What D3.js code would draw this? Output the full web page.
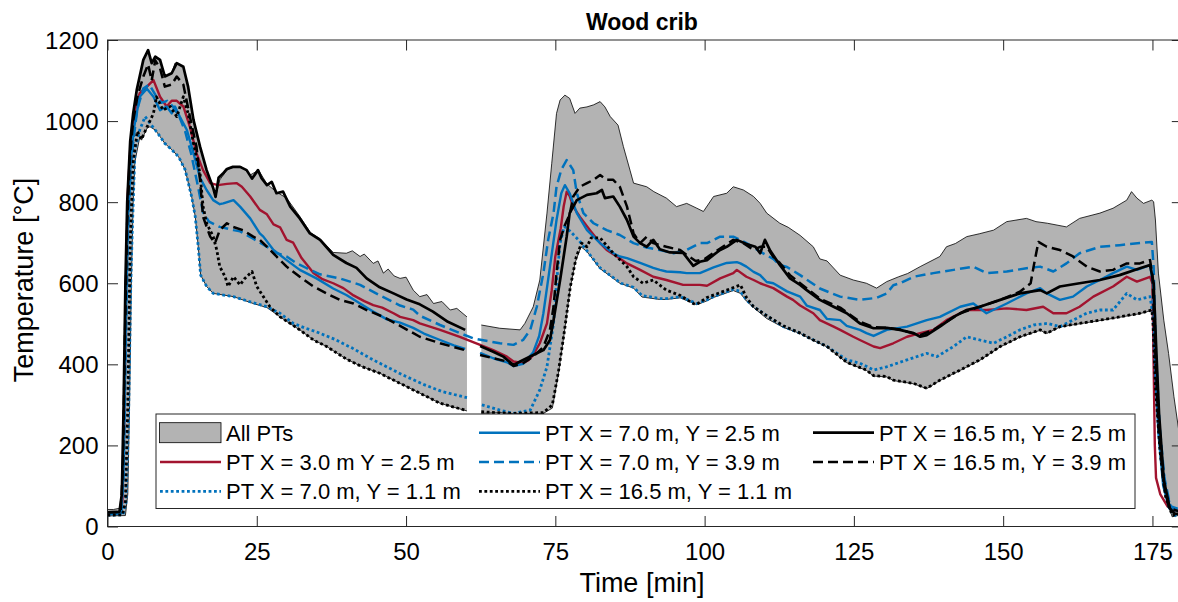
<!DOCTYPE html>
<html><head><meta charset="utf-8">
<script src="https://cdn.jsdelivr.net/npm/d3@7"></script>
<style>
body{margin:0;background:#fff}
text{font-family:Arial,"Liberation Sans",Helvetica,sans-serif;fill:#000}
</style>
</head><body>
<svg id="chart" width="1178" height="602"></svg>
<script>
// ---------------- data (time in min, temperature in °C) ----------------
const xTickValues = [0, 25, 50, 75, 100, 125, 150, 175];
const yTickValues = [0, 200, 400, 600, 800, 1000, 1200];

const envUpper = [[0,42],[1,42],[2,45],[2.3,60],[2.6,200],[3.0,500],[3.3,750],[3.7,900],[4.3,1020],[4.9,1077],[6,1151],[6.8,1177],[7.4,1143],[8,1160],[8.8,1151],[9.6,1110],[10.75,1118],[11.3,1143],[12.7,1134],[13.5,1085],[14.4,1003],[15.5,937],[16.6,879],[17.7,838],[18.1,813],[18.8,855],[20,879],[21,887],[22.5,887],[23.9,867],[25.3,879],[26.7,845],[28.3,825],[30,810],[32.2,765],[34,725],[35.6,710],[37.8,676],[40,674],[41,680],[42.3,666],[43,672],[44.5,649],[45.3,655],[46.2,625],[47,635],[48,618],[49,612],[50,615],[51.2,583],[52.3,567],[53.5,572],[54.6,550],[56,555],[57.4,534],[58.5,538],[60.2,517],null,[62.6,497],[65.7,489],[69.1,485],[69.9,501],[71.3,542],[72.4,608],[73.6,773],[74.4,896],[75.2,1019],[75.8,1052],[76.6,1064],[77.4,1056],[78.3,1019],[79.1,1032],[80.3,1035],[81.4,1040],[82.5,1048],[83.3,1035],[84.2,1011],[85.5,990],[86.4,937],[87.5,879],[88.1,847],[90.3,838],[91.5,826],[93.6,810],[95.3,789],[97,797],[98.7,785],[99.8,777],[101.5,814],[103.7,822],[104.8,838],[106.5,830],[108.2,814],[109.3,797],[110.4,773],[112.6,748],[114,738],[116,718],[118.2,690],[119.3,660],[120.5,655],[122.7,620],[124.9,608],[127.1,600],[128.8,588],[130.5,604],[132.5,616],[134,624],[136.1,641],[139.4,666],[140.5,690],[142,698],[143.9,715],[146,722],[148.4,731],[150.6,752],[153.9,760],[155.5,752],[157.4,748],[160.6,739],[162.8,760],[166.2,773],[168.4,785],[170.7,805],[171.5,826],[172.4,810],[173.5,797],[174.9,805],[175.2,801],[175.5,756],[176,625],[176.9,509],[177.7,427],[178.6,320],[179.4,238],[180,200]];

const envLower = [[0,26],[3.0,27],[3.4,80],[3.7,300],[4.0,600],[4.3,800],[4.6,900],[5.4,960],[5.7,953],[6.6,982],[7.1,986],[8,978],[8.8,962],[9.6,945],[10.8,929],[11.9,912],[13,880],[14.1,813],[14.7,764],[15.2,690],[15.6,620],[16.6,592],[17.7,575],[21.1,567],[24.4,550],[26.7,540],[28.9,517],[30.6,500],[32.2,485],[34.5,460],[36.7,444],[40,413],[42.5,395],[45.6,378],[49,353],[52.3,329],[55.7,304],[59,290],[60.2,285],null,[62.6,279],[65.7,281],[68,278],[70.8,279],[73,279],[74.5,292],[75.5,375],[76.5,478],[77.5,588],[78.3,650],[79.3,690],[80.3,678],[82.5,636],[84.7,612],[85.8,600],[88.1,588],[89.5,566],[92.5,560],[93.6,560],[95.9,564],[98.7,547],[100.3,556],[101.5,565],[104.8,582],[106,575],[107,556],[108.2,540],[110.4,513],[113.2,491],[116,476],[118.2,459],[120.5,443],[123.8,404],[127.1,385],[128.3,371],[130.5,369],[131.6,360],[135,352],[137.2,340],[139.4,360],[142.8,385],[146.1,410],[149.5,443],[152.8,467],[156.2,484],[157.3,476],[159.5,492],[162.8,500],[166.2,508],[169.5,516],[172.9,525],[174.9,533],[175.1,500],[175.5,345],[176.3,181],[177.2,74],[178.3,24],[179,26],[180,30]];

const seriesRed = [[0,32],[2.0,33],[2.5,60],[2.8,250],[3.1,600],[3.4,820],[3.8,930],[4.3,995],[4.8,1040],[5.4,1069],[6.6,1085],[7.7,1101],[8.8,1060],[9.9,1036],[10.75,1050],[11.6,1050],[12.7,1036],[13.8,986],[14.9,921],[16.0,879],[17.2,847],[18.5,842],[20,845],[21.6,847],[22.5,838],[23.9,814],[25.5,781],[26.7,770],[27.8,745],[28.9,738],[30,707],[31.1,700],[32.5,662],[34.5,625],[36,610],[37.8,600],[39.5,588],[41.2,570],[43,556],[44.5,546],[46,540],[47.9,526],[49,517],[51.2,509],[52.3,501],[55.7,485],[59,468],[62.4,448],[64.6,435],[66.9,419],[68,407],[69.6,403],[70.5,410],[71.3,423],[72.4,452],[73.6,501],[74.4,583],[75,666],[75.9,735],[76.4,790],[76.9,826],[77.4,815],[78,789],[79.1,764],[80.8,731],[82.5,699],[83.6,682],[85.3,666],[87,649],[88.1,641],[89.2,633],[91.4,616],[93.6,608],[96.4,596],[99.2,596],[100.4,594],[102.6,612],[104.8,625],[105.4,633],[107,616],[108.2,608],[109.3,600],[111.5,588],[113.8,567],[114.8,559],[116,545],[118.2,526],[119.3,509],[121.6,493],[122.7,485],[124.9,468],[126,460],[128.3,444],[129.4,440],[131.6,452],[133.9,468],[136.1,477],[138.3,485],[140.5,509],[143.9,534],[147.2,534],[150.6,538],[153.9,534],[156.7,542],[158.4,526],[160.6,526],[162.8,542],[165.1,567],[168.4,592],[170.7,616],[172.4,604],[174.6,616],[175.0,600],[175.2,400],[175.4,200],[175.6,120],[176.3,80],[177.5,50],[178.5,40],[180,38]];

const seriesBlueDotted = [[0,28],[2.6,29],[3.1,60],[3.5,250],[3.9,600],[4.15,731],[4.6,929],[5.4,978],[6.3,1011],[7.1,995],[8,978],[8.8,962],[9.6,945],[10.8,929],[11.9,912],[13,880],[14.1,813],[14.7,764],[15.2,690],[15.6,620],[16.6,592],[17.7,575],[21.1,567],[24.4,552],[26.7,542],[28.9,526],[31.1,501],[33,490],[35,480],[38,462],[41,440],[44,415],[47,392],[50,370],[53,350],[56,333],[59,322],[60.2,318],null,[62.7,300],[65.7,287],[68,279],[70.8,287],[72.4,337],[73.6,394],[74.7,501],[75.2,600],[75.8,700],[76.5,740],[77.5,728],[79,705],[80.5,676],[82.5,638],[84.7,614],[86,600],[88.1,590],[89.5,570],[92.5,562],[93.6,562],[95.9,567],[98.7,550],[100.4,559],[101.5,567],[104.8,585],[106,580],[107,559],[108.2,542],[110.4,520],[113.2,493],[116,477],[117.1,468],[120.5,444],[123.8,411],[126,403],[128.3,386],[130.5,394],[133.9,411],[137.2,427],[138.9,419],[141.7,444],[143.9,468],[146.1,460],[148.4,452],[150.6,468],[152.8,485],[155.1,497],[157.4,501],[159.5,493],[161.7,509],[164,526],[166.2,534],[168.4,534],[170.7,575],[172.4,559],[174.6,567],[175.1,520],[175.5,380],[176.2,220],[177.2,90],[178.3,35],[179,25],[180,30]];

const seriesBlueSolid = [[0,30],[2.3,32],[2.7,150],[3.0,450],[3.4,750],[3.9,900],[4.4,980],[5.4,1060],[6.6,1080],[7.7,1060],[8.8,1027],[9.9,1036],[10.75,1019],[11.3,1036],[12.1,1011],[13.3,978],[14.4,921],[15.5,860],[16.6,830],[17.7,805],[18.8,795],[19.4,797],[21.1,805],[22.2,789],[23.9,760],[25.5,723],[26.1,715],[27.8,682],[30,657],[32.2,633],[35,612],[37.8,587],[40,571],[42.3,550],[44.5,530],[46.8,511],[49,503],[51.2,490],[53,476],[55.7,460],[58,447],[59.9,438],null,[62.4,428],[64.6,415],[66.9,405],[68,396],[69.6,401],[71.3,430],[72.3,470],[73,526],[74.1,641],[75.2,756],[76,822],[76.6,842],[77.4,822],[78.6,773],[80.3,731],[82.5,699],[84.7,674],[85.8,666],[87,662],[89.2,650],[91.4,638],[92.5,633],[93.6,629],[95.9,627],[97,625],[99.2,625],[101.5,639],[103.7,650],[105.4,652],[106,649],[107,641],[108.2,628],[109.3,620],[110.4,603],[111.5,600],[113.8,580],[116,567],[117.1,545],[119.3,534],[120.5,512],[122.7,509],[123.8,495],[126,485],[127.1,477],[128.3,470],[130.5,485],[133.9,493],[137.2,509],[139.4,517],[142.8,542],[145,550],[147.2,526],[150.6,550],[153.9,575],[156.2,588],[157.3,575],[159.5,559],[161.7,567],[164,592],[166.2,608],[168.4,625],[170.7,641],[172.4,633],[174.6,645],[175.1,600],[175.5,380],[176,230],[176.8,100],[177.8,45],[180,35]];

const seriesBlueDashed = [[0,33],[2.3,34],[2.7,120],[3.0,400],[3.4,700],[3.9,880],[4.4,960],[5,1030],[6,1080],[7,1090],[8,1065],[9,1045],[10,1050],[11,1035],[12,1012],[13,975],[14,920],[15,850],[16,775],[17,752],[18.8,739],[20,735],[21.1,731],[22.2,728],[24.4,710],[26.7,690],[28.3,675],[30,666],[31.6,650],[33.4,637],[35.6,622],[38.9,612],[42.3,596],[45.6,570],[49,545],[51.2,535],[52.3,520],[55.7,497],[59,477],[61.3,464],[62.7,460],[65.7,452],[68,448],[69.6,460],[70.8,485],[71.9,542],[73,625],[73.8,707],[74.7,773],[75.2,838],[76,880],[76.9,904],[78,879],[78.6,822],[79.7,773],[81.4,748],[83.6,731],[85.8,719],[88.1,699],[90.3,688],[92.5,682],[94.8,674],[97,682],[99.2,699],[100.4,699],[102.6,715],[103.7,715],[104.8,715],[106,707],[107,699],[109.3,678],[111.5,660],[112.6,645],[113.8,640],[116,620],[119.3,587],[122.7,567],[126,559],[128.8,564],[130.5,575],[131.6,595],[132.7,600],[135,616],[138.3,625],[141.7,633],[145,641],[147.2,625],[150.6,629],[153.9,637],[156.2,641],[158.4,629],[160.6,649],[162.8,674],[166.2,690],[169.5,694],[172.9,699],[174.9,702],[175.2,640],[175.6,420],[176.2,250],[177,120],[178,50],[180,40]];

const seriesBlackDotted = [[0,28],[2.5,29],[3.0,60],[3.4,300],[3.8,700],[4.3,900],[5,975],[5.7,955],[6.6,985],[7.1,1000],[7.7,1019],[8.2,1060],[9.3,1027],[10.5,1036],[11.6,1011],[12.7,1060],[13.5,1019],[14.4,945],[15.5,871],[16,790],[16.6,748],[17.7,715],[18.3,682],[18.8,641],[19.7,616],[20.2,592],[21.1,616],[22.2,596],[23,612],[24.2,629],[25,592],[26.1,567],[27.2,542],[28.9,517],[30.6,501],[32.2,485],[34.5,460],[36.7,444],[40,413],[42.5,395],[45.6,378],[49,353],[52.3,329],[55.7,304],[59.9,287],null,[62.6,283],[65,281],[68,279],[71,280],[73,281],[74.5,300],[75.5,380],[76.5,480],[77.5,590],[78.5,665],[79.4,699],[80.3,690],[81,712],[82.5,712],[84.7,674],[87,641],[88.1,616],[89.7,600],[91.4,608],[93.6,583],[95.9,570],[98.1,550],[98.7,548],[100.4,565],[103.7,583],[106,596],[107,565],[108.2,542],[110.4,520],[113.2,495],[116,477],[118.2,460],[120.5,444],[123.8,405],[127.1,386],[128.3,372],[130.5,370],[131.6,361],[135,353],[137.2,341],[139.4,361],[142.8,386],[146.1,411],[149.5,444],[152.8,468],[156.2,485],[157.3,477],[159.5,493],[162.8,501],[166.2,509],[169.5,517],[172.9,526],[174.9,534],[175.1,500],[175.5,345],[176.3,181],[177.2,74],[178.3,28],[180,32]];

const seriesBlackSolid = [[0,35],[2.0,36],[2.4,80],[2.7,300],[3.0,600],[3.3,800],[3.8,950],[4.3,1019],[4.9,1077],[6.0,1151],[6.8,1175],[7.4,1143],[8.0,1159],[8.8,1151],[9.6,1110],[10.75,1118],[11.6,1143],[12.7,1134],[13.5,1085],[14.4,1003],[15.5,937],[16.6,879],[17.7,835],[18.1,813],[18.6,860],[19.3,870],[20,882],[21,887],[22.2,887],[23.3,879],[24.2,858],[25.2,879],[25.8,859],[26.7,842],[27.5,850],[28.3,822],[29.4,826],[30.6,789],[32.2,760],[33.9,723],[35.6,707],[37.8,670],[40,650],[41.7,638],[43.4,612],[45.6,590],[47.9,575],[50.1,560],[52.3,548],[54.5,530],[57,505],[59.9,485],null,[62.4,445],[64.6,431],[66.3,419],[68,398],[69.1,407],[71.3,423],[73,435],[74.1,460],[74.7,509],[75.8,608],[76.9,715],[77.4,773],[78.6,805],[80.3,818],[81.9,822],[82.8,830],[83.3,810],[84.7,814],[85.8,789],[87,756],[88.1,715],[89.2,699],[90.3,690],[91.4,707],[92.5,684],[94.2,676],[96.4,675],[98.1,643],[99.2,653],[100.4,657],[101.5,670],[102.6,682],[103.7,690],[105.4,707],[107,697],[108.5,690],[109.3,674],[110.1,707],[111,680],[112.6,645],[114.3,612],[116,596],[117.1,583],[119.3,559],[121.6,542],[123.8,526],[126,501],[128.3,489],[130.5,490],[132.7,485],[135,477],[136.1,468],[137.2,472],[139.4,493],[141.7,517],[143.9,534],[146.1,542],[149.5,559],[152.8,575],[156.2,583],[157.3,575],[159.5,592],[162.8,600],[166.2,608],[169.5,620],[172.9,637],[174.6,645],[175.2,600],[175.6,450],[176.1,280],[176.9,115],[177.9,45],[178.7,32],[180,30]];

const seriesBlackDashed = [[0,35],[2.2,36],[2.6,150],[2.9,450],[3.3,750],[3.8,920],[4.3,1000],[5,1060],[6,1110],[6.8,1140],[7.4,1100],[8.0,1150],[8.8,1130],[9.6,1085],[10.75,1090],[11.6,1110],[12.7,1090],[13.8,1011],[14.9,937],[15.5,855],[16,764],[17.2,715],[18,699],[18.8,731],[20,748],[21,739],[22.7,731],[24.4,715],[25.5,707],[26.7,690],[28.3,666],[30,641],[32.2,616],[34.5,592],[36.7,575],[38.9,559],[41.2,550],[43.4,534],[46.2,517],[49,495],[52.3,468],[55.7,452],[59.9,435],null,[62.4,423],[64.6,415],[66.9,407],[68,396],[69.6,403],[71.3,419],[73,443],[74.1,485],[74.7,542],[75.2,625],[75.8,707],[76.5,740],[77.4,770],[78,814],[79.1,838],[80.3,847],[81.4,855],[82.5,867],[83.6,855],[84.7,855],[85.8,838],[87,789],[88.1,723],[89.2,699],[90.3,715],[91.4,699],[93.6,690],[95.9,682],[97,670],[98.5,655],[100,660],[102,680],[104.8,707],[106.5,699],[108.2,682],[109.3,690],[110.4,690],[111.5,665],[112.6,650],[114.3,620],[116,600],[119.3,562],[122.7,540],[126,505],[128.3,492],[130.5,490],[132.7,486],[134,480],[136.1,472],[138.3,485],[140.5,505],[142.8,526],[146.1,542],[149.5,559],[152.8,579],[154.6,600],[155.2,649],[155.9,702],[157.3,690],[159.5,682],[161.7,666],[164,641],[166.2,629],[168.4,633],[170.7,649],[172.9,649],[174.6,657],[175.0,620],[175.5,420],[176,250],[176.8,110],[177.8,45],[180,35]];

const legendLabels = ["All PTs","PT X = 3.0 m Y = 2.5 m","PT X = 7.0 m, Y = 1.1 m","PT X = 7.0 m, Y = 2.5 m","PT X = 7.0 m, Y = 3.9 m","PT X = 16.5 m, Y = 1.1 m","PT X = 16.5 m, Y = 2.5 m","PT X = 16.5 m, Y = 3.9 m"];

// ---------------- layout / styles ----------------
const svg = d3.select("#chart");
const L = 107.5, R = 1182.3, T = 40, B = 526.5;
const x = d3.scaleLinear().domain([0,180]).range([L,R]);
const y = d3.scaleLinear().domain([0,1200]).range([B,T]);
const axisColor = "#262626";
const BLUE = "#0072BD", RED = "#A2142F", BLK = "#000000", GRAY = "#b3b3b3";

const styles = [
  {data: seriesRed, color: RED, dash: null, w: 2.4},
  {data: seriesBlueDotted, color: BLUE, dash: "2.8,2.6", w: 2.8},
  {data: seriesBlueSolid, color: BLUE, dash: null, w: 2.4},
  {data: seriesBlueDashed, color: BLUE, dash: "10,5", w: 2.5},
  {data: seriesBlackDotted, color: BLK, dash: "2.8,2.6", w: 2.8},
  {data: seriesBlackSolid, color: BLK, dash: null, w: 2.7},
  {data: seriesBlackDashed, color: BLK, dash: "10,5", w: 2.5}
];

svg.append("rect").attr("width",1178).attr("height",602).attr("fill","#fff");

svg.append("defs").append("clipPath").attr("id","plotclip")
  .append("rect").attr("x",L).attr("y",T).attr("width",R-L).attr("height",B-T);

const plot = svg.append("g").attr("clip-path","url(#plotclip)");

function segments(arr){
  const out=[]; let cur=[];
  arr.forEach(d=>{ if(d===null){ if(cur.length) out.push(cur); cur=[]; } else cur.push(d); });
  if(cur.length) out.push(cur);
  return out;
}
const lineGen = d3.line().defined(d=>d!==null).x(d=>x(d[0])).y(d=>y(d[1]));

// gray band (All PTs)
const upSeg = segments(envUpper), loSeg = segments(envLower);
upSeg.forEach((u,i)=>{
  const poly = u.concat(loSeg[i].slice().reverse());
  plot.append("path").attr("d", lineGen(poly)+"Z")
    .attr("fill",GRAY).attr("stroke","none");
  plot.append("path").attr("d", lineGen(u)).attr("fill","none").attr("stroke","#000").attr("stroke-width",0.8);
  plot.append("path").attr("d", lineGen(loSeg[i])).attr("fill","none").attr("stroke","#000").attr("stroke-width",0.8);
});

// series lines
styles.forEach(s=>{
  plot.append("path").attr("d", lineGen(s.data))
    .attr("fill","none").attr("stroke",s.color).attr("stroke-width",s.w)
    .attr("stroke-linejoin","round")
    .attr("stroke-dasharray", s.dash);
});

// axes box
svg.append("rect").attr("x",L).attr("y",T).attr("width",R-L).attr("height",B-T)
  .attr("fill","none").attr("stroke",axisColor).attr("stroke-width",1);

const tl = 10.5;
const xb = svg.append("g").attr("transform",`translate(0,${B})`)
  .call(d3.axisBottom(x).tickValues(xTickValues).tickSize(-tl).tickSizeOuter(0).tickFormat(d3.format("d")));
const xt = svg.append("g").attr("transform",`translate(0,${T})`)
  .call(d3.axisTop(x).tickValues(xTickValues).tickSize(-tl).tickSizeOuter(0).tickFormat(""));
const yl = svg.append("g").attr("transform",`translate(${L},0)`)
  .call(d3.axisLeft(y).tickValues(yTickValues).tickSize(-tl).tickSizeOuter(0).tickFormat(d3.format("d")));
const yr = svg.append("g").attr("transform",`translate(${R},0)`)
  .call(d3.axisRight(y).tickValues(yTickValues).tickSize(-tl).tickSizeOuter(0).tickFormat(""));
[xb,xt,yl,yr].forEach(g=>{
  g.select(".domain").remove();
  g.selectAll(".tick line").attr("stroke",axisColor).attr("stroke-width",1);
  g.selectAll(".tick text").attr("fill","#000").style("font-size","24px")
    .style("font-family","Arial, 'Liberation Sans', sans-serif");
});
xb.selectAll(".tick text").attr("dy","0.71em").attr("y",16);
yl.selectAll(".tick text").attr("x",-9).attr("dy","0.35em");

// titles
svg.append("text").attr("x",(L+R)/2 - 3).attr("y",30).attr("text-anchor","middle")
  .style("font-size","23px").style("font-weight","bold").text("Wood crib");
svg.append("text").attr("x",(L+R)/2 - 3).attr("y",592).attr("text-anchor","middle")
  .style("font-size","27px").text("Time [min]");
svg.append("text").attr("transform","translate(33,280) rotate(-90)").attr("text-anchor","middle")
  .style("font-size","27px").text("Temperature [°C]");

// legend
const lg = svg.append("g");
lg.append("rect").attr("x",156).attr("y",414).attr("width",979).attr("height",94.5)
  .attr("fill","#fff").attr("stroke",axisColor).attr("stroke-width",1);
const colX = [160, 479, 813];
const rowY = [432.7, 462, 491.3];
const legendItems = [null].concat(styles);
legendLabels.forEach((lab,i)=>{
  const col = Math.floor(i/3), row = i%3;
  const x0 = colX[col], yy = rowY[row];
  if(i===0){
    lg.append("rect").attr("x",x0-0.5).attr("y",yy-10).attr("width",61.5).attr("height",20)
      .attr("fill",GRAY).attr("stroke","#000").attr("stroke-width",0.8);
  } else {
    const s = legendItems[i];
    lg.append("path").attr("d", d3.line()([[x0,yy],[x0+61,yy]]))
      .attr("stroke",s.color).attr("stroke-width",s.w).attr("fill","none")
      .attr("stroke-dasharray", s.dash);
  }
  lg.append("text").attr("x",x0+66).attr("y",yy+8).style("font-size","22px").text(lab);
});
</script>
</body></html>
